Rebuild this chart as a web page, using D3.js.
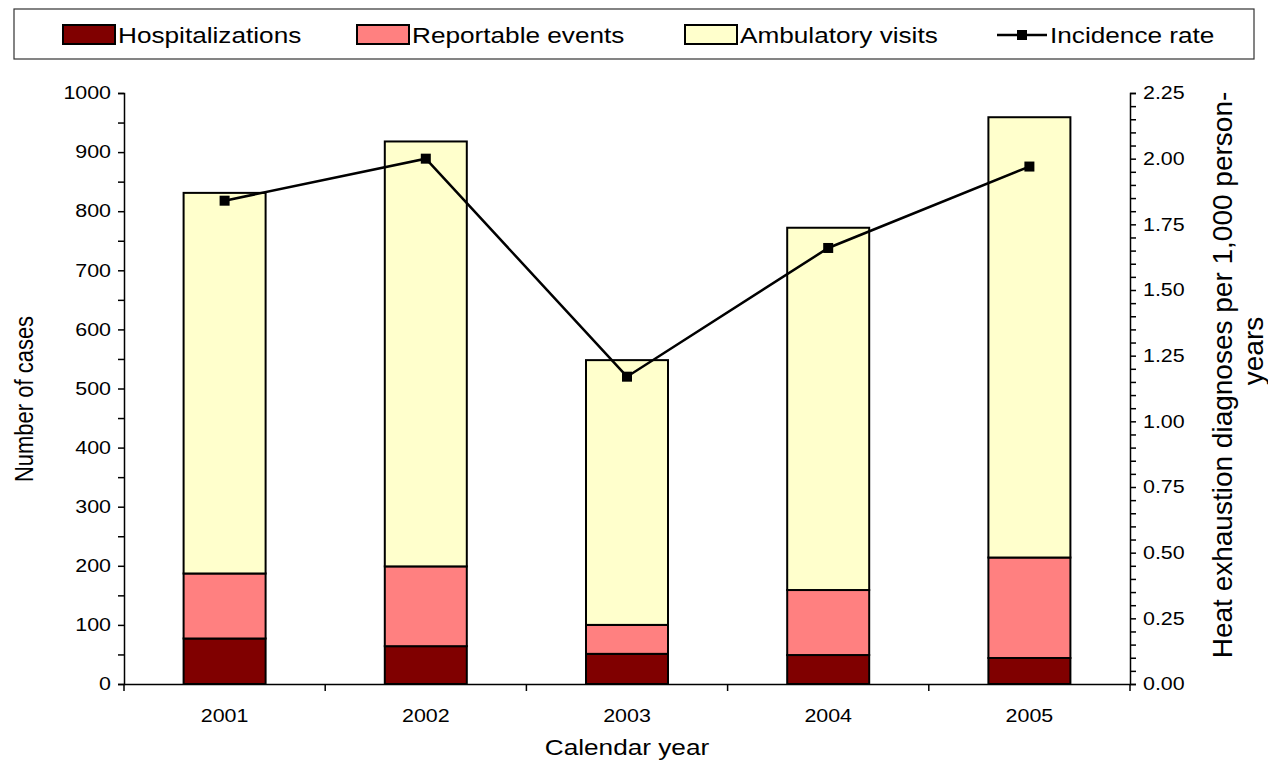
<!DOCTYPE html>
<html><head><meta charset="utf-8">
<script src="https://cdn.jsdelivr.net/npm/d3@7"></script>
<style>
body{margin:0;background:#fff;}
text{font-family:Arial,"Liberation Sans",sans-serif;fill:#000;}
</style></head>
<body><svg id="chart" width="1268" height="764"></svg>
<script>
const years = ["2001","2002","2003","2004","2005"];
const hospitalizations = [77, 64, 51, 49, 44];
const reportableEvents = [110, 135, 49, 110, 170];
const ambulatoryVisits = [644, 719, 448, 613, 745];
const incidenceRate = [1.84, 2.00, 1.17, 1.66, 1.97];
const leftTicks = [0,100,200,300,400,500,600,700,800,900,1000];
const rightTicks = [0,0.25,0.5,0.75,1.0,1.25,1.5,1.75,2.0,2.25];
const seriesNames = ["Hospitalizations","Reportable events","Ambulatory visits"];
const seriesColors = ["#800000","#FF8080","#FFFFCC"];

const svg = d3.select("#chart");
const L = 124, R = 1130, T = 93, B = 684;
const FONT = "Arial, 'Liberation Sans', sans-serif";
const SX = 1.19; // horizontal stretch of glyphs in the reference

const x = d3.scaleBand().domain(years).range([L, R]).paddingInner(0).paddingOuter(0);
const yL = d3.scaleLinear().domain([0, 1000]).range([B, T]);
const yR = d3.scaleLinear().domain([0, 2.25]).range([B, T]);

const rows = years.map((y, i) => ({year: y, h: hospitalizations[i], r: reportableEvents[i], a: ambulatoryVisits[i]}));
const stack = d3.stack().keys(["h","r","a"])(rows);

const barW = 82;
const g = svg.append("g");
stack.forEach((layer, li) => {
  g.selectAll(null).data(layer).enter().append("rect")
    .attr("x", d => x(d.data.year) + x.bandwidth()/2 - barW/2)
    .attr("y", d => yL(d[1]))
    .attr("width", barW)
    .attr("height", d => yL(d[0]) - yL(d[1]))
    .attr("fill", seriesColors[li])
    .attr("stroke", "#000").attr("stroke-width", 2);
});

// left axis
const axL = svg.append("g").attr("transform", `translate(${L},0)`)
  .call(d3.axisLeft(yL).tickValues(d3.range(0, 1001, 50)).tickSize(6).tickFormat(d => leftTicks.includes(d) ? d : ""));
axL.select(".domain").attr("stroke", "#000").attr("stroke-width", 1.5);
axL.selectAll(".tick line").attr("stroke", "#000").attr("stroke-width", 1.5);
axL.selectAll(".tick text").attr("font-size", 18).attr("x", -13 / SX).attr("font-family", FONT)
  .attr("transform", `scale(${SX},1)`);

// right axis
const axR = svg.append("g").attr("transform", `translate(${R},0)`)
  .call(d3.axisRight(yR).tickValues(d3.range(0, 46).map(k => k*0.05)).tickSize(6)
    .tickFormat(d => rightTicks.some(t => Math.abs(t - d) < 1e-9) ? d3.format(".2f")(d) : ""));
axR.select(".domain").attr("stroke", "#000").attr("stroke-width", 1.5);
axR.selectAll(".tick line").attr("stroke", "#000").attr("stroke-width", 1.5);
axR.selectAll(".tick text").attr("font-size", 18).attr("x", 13 / SX).attr("font-family", FONT)
  .attr("transform", `scale(${SX},1)`);

// x axis
const axX = svg.append("g").attr("transform", `translate(0,${B})`)
  .call(d3.axisBottom(x).tickSize(0).tickPadding(25));
axX.select(".domain").attr("stroke", "#000").attr("stroke-width", 1.5);
axX.selectAll(".tick text").attr("font-size", 18).attr("font-family", FONT)
  .attr("transform", `scale(${SX},1)`);
svg.append("g").selectAll("line").data(d3.range(years.length + 1)).enter().append("line")
  .attr("x1", i => L + i*x.step()).attr("x2", i => L + i*x.step())
  .attr("y1", B).attr("y2", B + 7).attr("stroke", "#000").attr("stroke-width", 1.5);

// incidence line
const line = d3.line().x((d, i) => x(years[i]) + x.bandwidth()/2).y(d => yR(d));
svg.append("path").datum(incidenceRate).attr("d", line).attr("fill", "none").attr("stroke", "#000").attr("stroke-width", 2.5);
svg.selectAll(".mk").data(incidenceRate).enter().append("rect")
  .attr("x", (d, i) => x(years[i]) + x.bandwidth()/2 - 5).attr("y", d => yR(d) - 5)
  .attr("width", 10).attr("height", 10).attr("fill", "#000");

// axis titles
svg.append("text").attr("transform", `translate(33,399) scale(${SX},1) rotate(-90)`).attr("text-anchor", "middle")
  .attr("font-size", 22).text("Number of cases");
svg.append("text").attr("transform", `translate(627,755) scale(${SX},1)`).attr("text-anchor", "middle")
  .attr("font-size", 22).text("Calendar year");
svg.append("text").attr("transform", `translate(1232,375) rotate(-90)`).attr("text-anchor", "middle")
  .attr("font-size", 28).text("Heat exhaustion diagnoses per 1,000 person-");
svg.append("text").attr("transform", `translate(1263,351) rotate(-90)`).attr("text-anchor", "middle")
  .attr("font-size", 28).text("years");

// legend
const lg = svg.append("g");
lg.append("rect").attr("x", 14).attr("y", 9).attr("width", 1240).attr("height", 50)
  .attr("fill", "#fff").attr("stroke", "#333").attr("stroke-width", 1.2);
const legX = [63, 357, 685];
seriesNames.forEach((n, i) => {
  lg.append("rect").attr("x", legX[i]).attr("y", 25).attr("width", 52).attr("height", 19)
    .attr("fill", seriesColors[i]).attr("stroke", "#000").attr("stroke-width", 2);
  lg.append("text").attr("transform", `translate(${legX[i] + 55},43) scale(${SX},1)`).attr("font-size", 22).text(n);
});
lg.append("line").attr("x1", 997).attr("x2", 1047).attr("y1", 35).attr("y2", 35).attr("stroke", "#000").attr("stroke-width", 2.5);
lg.append("rect").attr("x", 1017).attr("y", 30).attr("width", 10).attr("height", 10).attr("fill", "#000");
lg.append("text").attr("transform", `translate(1050,43) scale(${SX},1)`).attr("font-size", 22).text("Incidence rate");
</script></body></html>
